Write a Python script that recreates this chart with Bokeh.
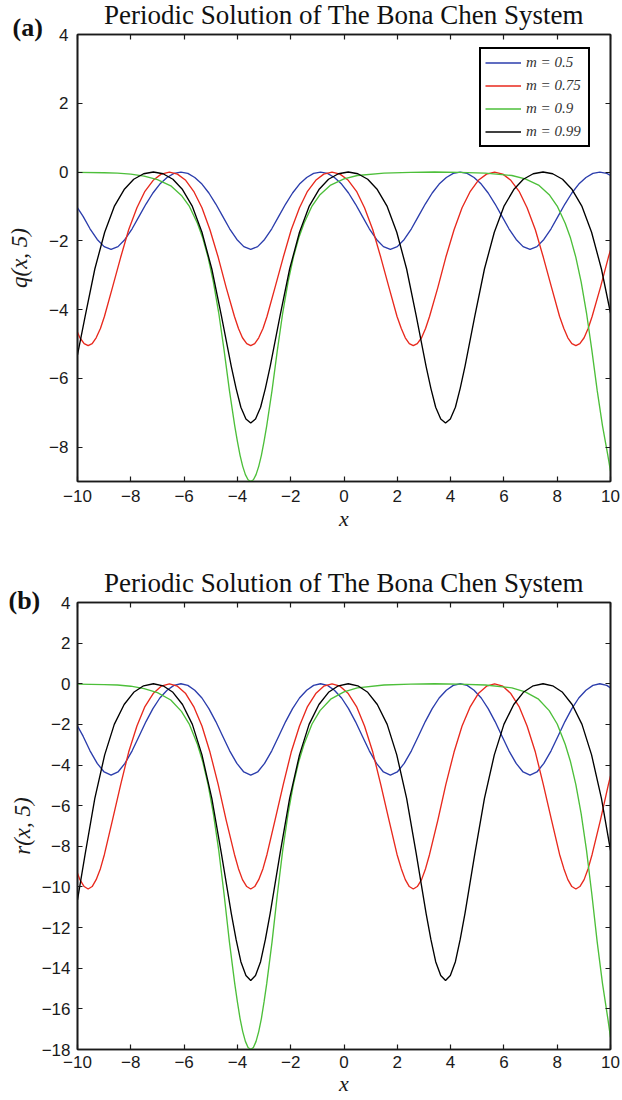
from bokeh.plotting import figure
from bokeh.models import Range1d, LinearAxis, FixedTicker, Title, CustomJSTickFormatter
from bokeh.layouts import column
from bokeh.embed import file_html
from bokeh.resources import INLINE

# ---------------- data ----------------
legend_labels = ["m = 0.5", "m = 0.75", "m = 0.9", "m = 0.99"]
colors = ["#2b3dac", "#e8291d", "#4dbf3a", "#000000"]
x_ticks = [-10, -8, -6, -4, -2, 0, 2, 4, 6, 8, 10]
y_ticks_a = [-8, -6, -4, -2, 0, 2, 4]
y_ticks_b = [-18, -16, -14, -12, -10, -8, -6, -4, -2, 0, 2, 4]

x_m05 = [-10.00, -9.79, -9.53, -9.26, -9.00, -8.74, -8.48, -8.22, -7.95, -7.69, -7.43, -7.17, -6.91,
         -6.64, -6.38, -6.12, -5.86, -5.60, -5.33, -5.07, -4.81, -4.55, -4.29, -4.02, -3.76, -3.50,
         -3.24, -2.98, -2.71, -2.45, -2.19, -1.93, -1.67, -1.40, -1.14, -0.88, -0.62, -0.36, -0.09,
         0.17, 0.43, 0.69, 0.95, 1.22, 1.48, 1.74, 2.00, 2.26, 2.53, 2.79, 3.05, 3.31, 3.57, 3.84,
         4.10, 4.36, 4.62, 4.88, 5.15, 5.41, 5.67, 5.93, 6.19, 6.46, 6.72, 6.98, 7.24, 7.50, 7.77,
         8.03, 8.29, 8.55, 8.81, 9.08, 9.34, 9.60, 9.86, 10.00]
q_m05 = [-1.04, -1.29, -1.65, -1.96, -2.17, -2.25, -2.17, -1.96, -1.65, -1.29, -0.93, -0.61, -0.35,
         -0.16, -0.04, 0.00, -0.04, -0.16, -0.35, -0.61, -0.93, -1.29, -1.65, -1.96, -2.17, -2.25,
         -2.17, -1.96, -1.65, -1.29, -0.93, -0.61, -0.35, -0.16, -0.04, 0.00, -0.04, -0.16, -0.35,
         -0.61, -0.93, -1.29, -1.65, -1.96, -2.17, -2.25, -2.17, -1.96, -1.65, -1.29, -0.93, -0.61,
         -0.35, -0.16, -0.04, 0.00, -0.04, -0.16, -0.35, -0.61, -0.93, -1.29, -1.65, -1.96, -2.17,
         -2.25, -2.17, -1.96, -1.65, -1.29, -0.93, -0.61, -0.35, -0.16, -0.04, 0.00, -0.04, -0.10]
r_m05 = [-2.08, -2.58, -3.30, -3.92, -4.34, -4.50, -4.34, -3.92, -3.30, -2.58, -1.86, -1.22, -0.70,
         -0.32, -0.08, 0.00, -0.08, -0.32, -0.70, -1.22, -1.86, -2.58, -3.30, -3.92, -4.34, -4.50,
         -4.34, -3.92, -3.30, -2.58, -1.86, -1.22, -0.70, -0.32, -0.08, 0.00, -0.08, -0.32, -0.70,
         -1.22, -1.86, -2.58, -3.30, -3.92, -4.34, -4.50, -4.34, -3.92, -3.30, -2.58, -1.86, -1.22,
         -0.70, -0.32, -0.08, 0.00, -0.08, -0.32, -0.70, -1.22, -1.86, -2.58, -3.30, -3.92, -4.34,
         -4.50, -4.34, -3.92, -3.30, -2.58, -1.86, -1.22, -0.70, -0.32, -0.08, 0.00, -0.08, -0.20]

x_m075 = [-10.00, -9.91, -9.75, -9.60, -9.45, -9.30, -9.14, -8.99, -8.69, -8.38, -8.08, -7.77, -7.47,
          -7.16, -6.86, -6.55, -6.25, -5.94, -5.64, -5.33, -5.03, -4.72, -4.42, -4.11, -3.96, -3.81,
          -3.65, -3.50, -3.35, -3.20, -3.04, -2.89, -2.59, -2.28, -1.98, -1.67, -1.37, -1.06, -0.76,
          -0.45, -0.15, 0.16, 0.47, 0.77, 1.08, 1.38, 1.69, 1.99, 2.15, 2.30, 2.45, 2.60, 2.75, 2.91,
          3.06, 3.21, 3.52, 3.82, 4.13, 4.43, 4.74, 5.04, 5.35, 5.65, 5.96, 6.26, 6.57, 6.87, 7.18,
          7.48, 7.79, 8.09, 8.25, 8.40, 8.55, 8.70, 8.85, 9.01, 9.16, 9.31, 9.62, 9.92, 10.00]
q_m075 = [-4.66, -4.82, -4.99, -5.05, -4.99, -4.82, -4.55, -4.20,
          -3.36, -2.48, -1.68, -1.04, -0.56, -0.24, -0.06, 0.00, -0.06, -0.24, -0.56, -1.04, -1.68,
          -2.48, -3.36,
          -4.20, -4.55, -4.82, -4.99, -5.05, -4.99, -4.82, -4.55, -4.20,
          -3.36, -2.48, -1.68, -1.04, -0.56, -0.24, -0.06, 0.00, -0.06, -0.24, -0.56, -1.04, -1.68,
          -2.48, -3.36,
          -4.20, -4.55, -4.82, -4.99, -5.05, -4.99, -4.82, -4.55, -4.20,
          -3.36, -2.48, -1.68, -1.04, -0.56, -0.24, -0.06, 0.00, -0.06, -0.24, -0.56, -1.04, -1.68,
          -2.48, -3.36,
          -4.20, -4.55, -4.82, -4.99, -5.05, -4.99, -4.82, -4.55, -4.20,
          -3.36, -2.48, -2.27]
r_m075 = [-9.32, -9.64, -9.98, -10.10, -9.98, -9.64, -9.10, -8.40,
          -6.72, -4.96, -3.36, -2.08, -1.12, -0.48, -0.12, 0.00, -0.12, -0.48, -1.12, -2.08, -3.36,
          -4.96, -6.72,
          -8.40, -9.10, -9.64, -9.98, -10.10, -9.98, -9.64, -9.10, -8.40,
          -6.72, -4.96, -3.36, -2.08, -1.12, -0.48, -0.12, 0.00, -0.12, -0.48, -1.12, -2.08, -3.36,
          -4.96, -6.72,
          -8.40, -9.10, -9.64, -9.98, -10.10, -9.98, -9.64, -9.10, -8.40,
          -6.72, -4.96, -3.36, -2.08, -1.12, -0.48, -0.12, 0.00, -0.12, -0.48, -1.12, -2.08, -3.36,
          -4.96, -6.72,
          -8.40, -9.10, -9.64, -9.98, -10.10, -9.98, -9.64, -9.10, -8.40,
          -6.72, -4.96, -4.54]

x_m09 = [-10.0, -9.0, -8.5, -8.0, -7.5, -7.0, -6.5, -6.1, -5.8, -5.5, -5.3, -5.1, -4.9, -4.7, -4.5,
         -4.3, -4.1, -4.0, -3.9, -3.8, -3.7, -3.6, -3.5, -3.4, -3.3, -3.2, -3.1, -3.0, -2.9, -2.7,
         -2.5, -2.3, -2.1, -1.9, -1.7, -1.5, -1.2, -0.9, -0.5, 0.0, 0.5, 1.5, 2.5, 3.4, 4.3, 5.3,
         6.3, 6.8, 7.3, 7.7, 8.0, 8.3, 8.5, 8.7, 8.9, 9.1, 9.3, 9.5, 9.7, 9.9, 10.0]
q_m09 = [-0.01, -0.02, -0.03, -0.06, -0.12, -0.22, -0.40, -0.68, -1.00, -1.49, -1.92, -2.48, -3.20,
         -4.10, -5.18, -6.35, -7.38, -7.83, -8.24, -8.56, -8.80, -8.95, -9.00, -8.95, -8.80, -8.56,
         -8.24, -7.83, -7.38, -6.35, -5.18, -4.10, -3.20, -2.48, -1.92, -1.49, -0.99, -0.66, -0.38,
         -0.20, -0.10, -0.03, -0.01, 0.00, -0.01, -0.03, -0.10, -0.20, -0.38, -0.66, -0.99, -1.49,
         -1.92, -2.48, -3.20, -4.10, -5.18, -6.35, -7.38, -8.24, -8.70]
r_m09 = [-0.02, -0.04, -0.06, -0.12, -0.24, -0.44, -0.80, -1.36, -2.00, -2.98, -3.84, -4.96, -6.40,
         -8.20, -10.36, -12.70, -14.76, -15.66, -16.48, -17.12, -17.60, -17.90, -18.00, -17.90,
         -17.60, -17.12, -16.48, -15.66, -14.76, -12.70, -10.36, -8.20, -6.40, -4.96, -3.84, -2.98,
         -1.98, -1.32, -0.76, -0.40, -0.20, -0.06, -0.02, 0.00, -0.02, -0.06, -0.20, -0.40, -0.76,
         -1.32, -1.98, -2.98, -3.84, -4.96, -6.40, -8.20, -10.36, -12.70, -14.76, -16.48, -17.40]

x_m099 = [-10.00, -9.71, -9.35, -8.98, -8.62, -8.25, -7.89, -7.52, -7.15, -6.79, -6.42, -6.06, -5.69,
          -5.33, -4.96, -4.60, -4.23, -4.05, -3.87, -3.68, -3.50, -3.32, -3.13, -2.95, -2.77, -2.40,
          -2.04, -1.67, -1.31, -0.94, -0.58, -0.21, 0.16, 0.52, 0.89, 1.25, 1.62, 1.98, 2.35, 2.71,
          3.08, 3.26, 3.44, 3.63, 3.81, 3.99, 4.18, 4.36, 4.54, 4.91, 5.27, 5.64, 6.00, 6.37, 6.73,
          7.10, 7.47, 7.83, 8.20, 8.56, 8.93, 9.29, 9.66, 10.00]
q_m099 = [-5.32, -4.18, -2.82, -1.75, -1.00, -0.51, -0.21, -0.05, 0.00, -0.05, -0.21, -0.51, -1.00,
          -1.75, -2.82, -4.18, -5.65, -6.29, -6.84, -7.18, -7.30, -7.18, -6.84, -6.29, -5.65, -4.18,
          -2.82, -1.75, -1.00, -0.51, -0.21, -0.05, 0.00, -0.05, -0.21, -0.51, -1.00, -1.75, -2.82,
          -4.18, -5.65, -6.29, -6.84, -7.18, -7.30, -7.18, -6.84, -6.29, -5.65, -4.18, -2.82, -1.75,
          -1.00, -0.51, -0.21, -0.05, 0.00, -0.05, -0.21, -0.51, -1.00, -1.75, -2.82, -4.10]
r_m099 = [-10.64, -8.36, -5.64, -3.50, -2.00, -1.02, -0.42, -0.10, 0.00, -0.10, -0.42, -1.02, -2.00,
          -3.50, -5.64, -8.36, -11.30, -12.58, -13.68, -14.36, -14.60, -14.36, -13.68, -12.58,
          -11.30, -8.36, -5.64, -3.50, -2.00, -1.02, -0.42, -0.10, 0.00, -0.10, -0.42, -1.02, -2.00,
          -3.50, -5.64, -8.36, -11.30, -12.58, -13.68, -14.36, -14.60, -14.36, -13.68, -12.58,
          -11.30, -8.36, -5.64, -3.50, -2.00, -1.02, -0.42, -0.10, 0.00, -0.10, -0.42, -1.02, -2.00,
          -3.50, -5.64, -8.20]

TITLE = "Periodic Solution of The Bona Chen System"

# ---------------- styling helpers ----------------
MINUS_FMT = "return tick < 0 ? '\\u2212' + Math.abs(tick) : tick.toString();"
AX_COLOR = "#1a1a1a"
SERIF = "Liberation Serif"
SANS = "Liberation Sans"


def style_axis(ax, ticks, show_labels=True, standoff=8):
    ax.ticker = FixedTicker(ticks=ticks)
    ax.axis_line_color = AX_COLOR
    ax.axis_line_width = 1.6
    ax.major_tick_line_color = AX_COLOR
    ax.major_tick_line_width = 1.2
    ax.major_tick_in = 5
    ax.major_tick_out = 0
    ax.minor_tick_line_color = None
    if show_labels:
        ax.formatter = CustomJSTickFormatter(code=MINUS_FMT)
        ax.major_label_text_font = SANS
        ax.major_label_text_font_size = "17px"
        ax.major_label_text_color = "#1a1a1a"
        ax.major_label_standoff = standoff
    else:
        ax.major_label_text_font_size = "0px"
        ax.major_label_text_color = None
        ax.major_label_standoff = 0


def make_panel(series_y, y_min, y_ticks, ylabel, tag, height, borders, std, legend):
    left, right, top, bottom = borders
    xl_std, yl_std, x_lab_std, y_lab_std, tag_std, title_std = std
    p = figure(width=622, height=height, output_backend="svg", toolbar_location=None,
               x_range=Range1d(-10, 10), y_range=Range1d(y_min, 4), title=None,
               min_border_left=left, min_border_right=right,
               min_border_top=top, min_border_bottom=bottom)
    p.xgrid.visible = False
    p.ygrid.visible = False
    p.outline_line_color = AX_COLOR
    p.outline_line_width = 1.6
    p.background_fill_color = "white"
    p.border_fill_color = "white"

    style_axis(p.xaxis[0], x_ticks, standoff=xl_std)
    p.xaxis[0].axis_label = "x"
    p.xaxis[0].axis_label_text_font = SERIF
    p.xaxis[0].axis_label_text_font_style = "italic"
    p.xaxis[0].axis_label_text_font_size = "22px"
    p.xaxis[0].axis_label_standoff = x_lab_std
    p.xaxis[0].axis_label_text_color = "#1a1a1a"

    style_axis(p.yaxis[0], y_ticks, standoff=yl_std)
    p.yaxis[0].axis_label = ylabel
    p.yaxis[0].axis_label_text_font = SERIF
    p.yaxis[0].axis_label_text_font_style = "italic"
    p.yaxis[0].axis_label_text_font_size = "23px"
    p.yaxis[0].axis_label_standoff = y_lab_std
    p.yaxis[0].axis_label_text_color = "#1a1a1a"

    top_ax = LinearAxis()
    style_axis(top_ax, x_ticks, show_labels=False)
    p.add_layout(top_ax, "above")
    right_ax = LinearAxis()
    style_axis(right_ax, y_ticks, show_labels=False)
    p.add_layout(right_ax, "right")

    # panel tag, nearest to the frame, then the main title above it
    p.add_layout(Title(text=tag, align="left", offset=8 - left, standoff=tag_std,
                       text_font=SERIF, text_font_style="bold", text_font_size="26px",
                       text_color="#111111"), "above")
    p.add_layout(Title(text=TITLE, align="center", standoff=title_std,
                       text_font=SERIF, text_font_style="normal", text_font_size="27px",
                       text_color="#111111"), "above")

    xs_list = [x_m05, x_m075, x_m09, x_m099]
    for xs, ys, c, lab in zip(xs_list, series_y, colors, legend_labels):
        if legend:
            p.line(xs, ys, line_color=c, line_width=1.35, legend_label=lab)
        else:
            p.line(xs, ys, line_color=c, line_width=1.35)

    if legend:
        lg = p.legend[0]
        lg.location = (402, 334)
        lg.border_line_color = "black"
        lg.border_line_alpha = 1.0
        lg.border_line_width = 2
        lg.background_fill_color = "white"
        lg.background_fill_alpha = 1.0
        lg.label_text_font = SERIF
        lg.label_text_font_style = "italic"
        lg.label_text_font_size = "15px"
        lg.label_text_color = "#333333"
        lg.glyph_width = 36
        lg.glyph_height = 19
        lg.label_height = 19
        lg.label_width = 58
        lg.spacing = 4
        lg.padding = 4
        lg.margin = 0
        lg.label_standoff = 5
    return p


pa = make_panel([q_m05, q_m075, q_m09, q_m099], -9, y_ticks_a, "q(x, 5)", "(a)",
                550, (73, 12, 34, 69), (8, 9, 1, 14, -14, -24), True)
pb = make_panel([r_m05, r_m075, r_m09, r_m099], -18, y_ticks_b, "r(x, 5)", "(b)",
                550, (77, 7, 52, 51), (6, 7, 0, 4, -25, -3), False)

layout = column(pa, pb, spacing=0)
open("out.html", "w").write(file_html(layout, INLINE))
